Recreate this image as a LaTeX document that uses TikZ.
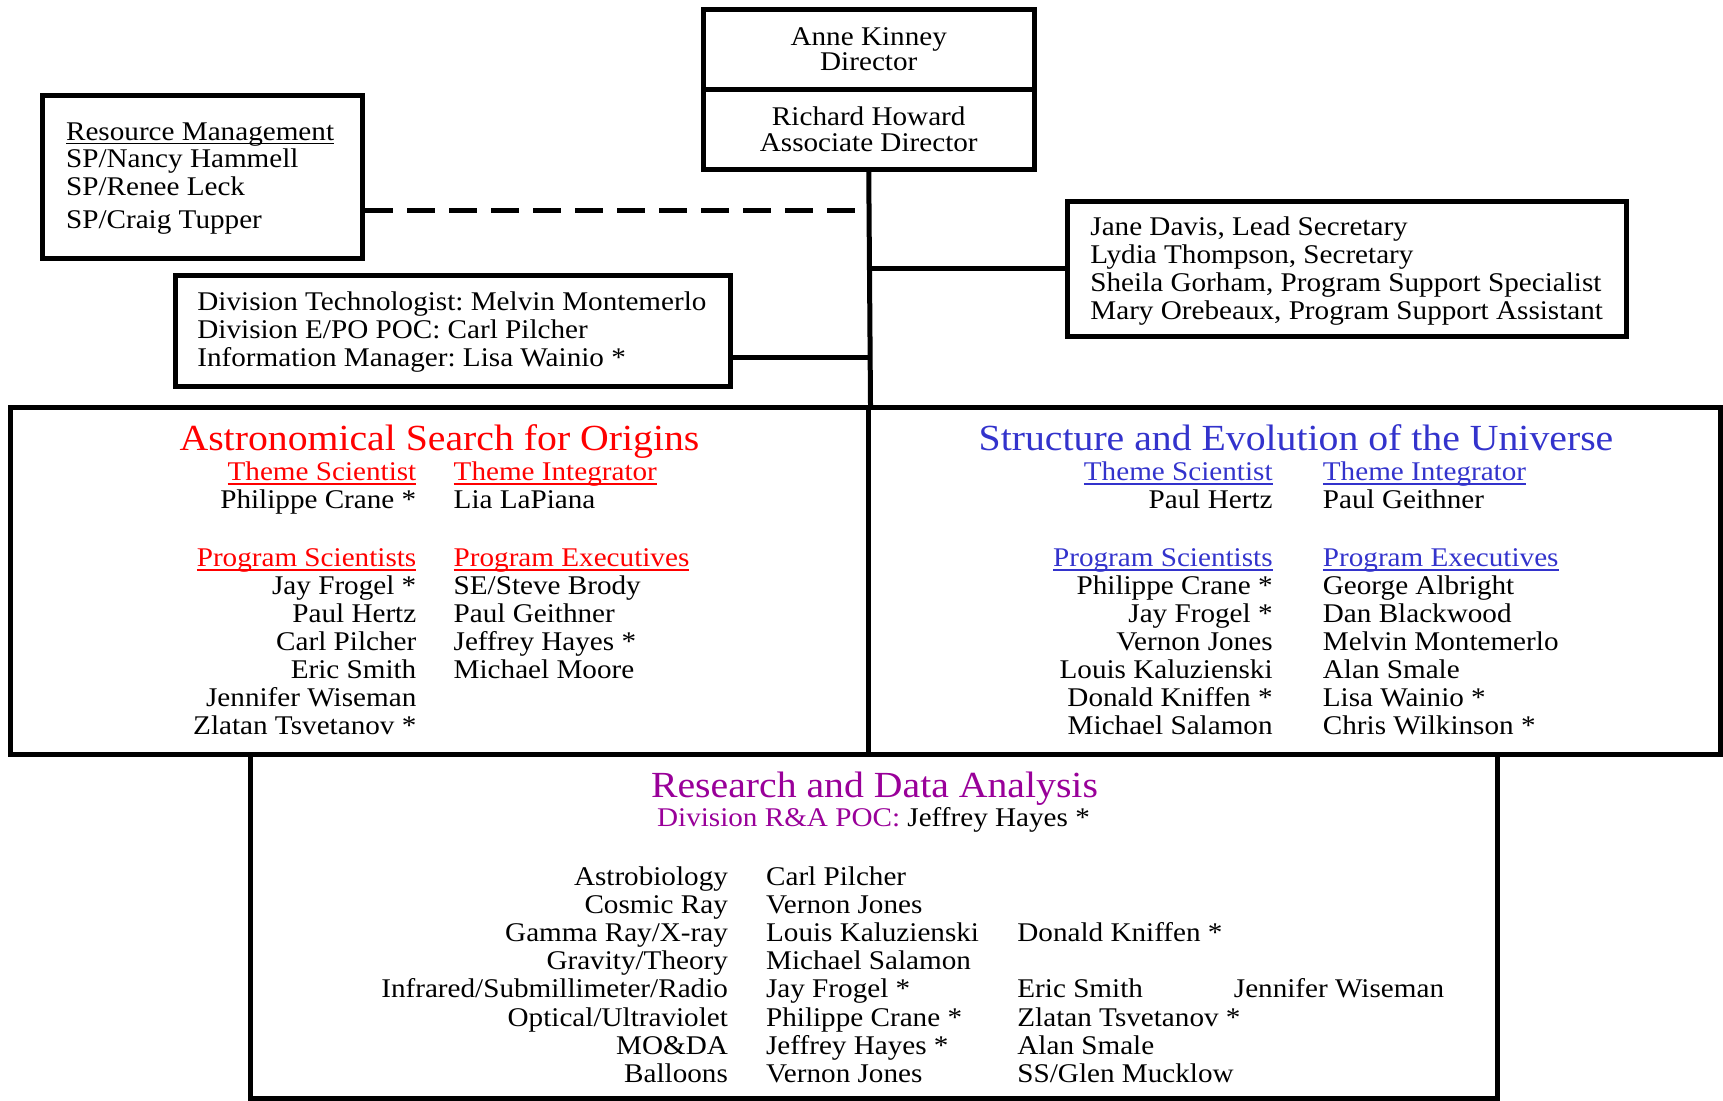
\documentclass[tikz,border=0pt]{standalone}
\usepackage{fontspec}
\setmainfont{Liberation Serif}[FakeStretch=1.08]
\usetikzlibrary{fit}
\definecolor{asored}{RGB}{255,0,0}
\definecolor{seublue}{RGB}{51,51,204}
\definecolor{rdapurple}{RGB}{153,0,153}
\newsavebox{\hdbox}
\newcommand{\hdline}[1]{\sbox{\hdbox}{#1}\rlap{\rule[-2.2pt]{\wd\hdbox}{0.9pt}}\usebox{\hdbox}}
\frenchspacing

\tikzset{
  frame/.style={draw, line width=2.5pt, inner sep=0pt},
  link/.style={line width=2.5pt},
  txt/.style={inner sep=0pt, font=\fontsize{13.5}{14}\selectfont},
  ttl/.style={inner sep=0pt, anchor=base, font=\fontsize{18.4}{20}\selectfont},
}

\begin{document}
\begin{tikzpicture}[x=0.5pt, y=-0.5pt]
  \useasboundingbox (0,0) rectangle (1723,1100);
  \node[frame, fit={(703,9.5) (1034.5,89.5)}]   (DIR)  {};
  \node[frame, fit={(703,89.5) (1034.5,169.5)}] (ADIR) {};
  \node[frame, fit={(42.5,95) (362.5,258.5)}]   (RES)  {};
  \node[frame, fit={(175,275) (730.5,386.7)}]   (TECH) {};
  \node[frame, fit={(1067,201.5) (1626,336.5)}] (SEC)  {};
  \node[frame, fit={(10,407.5) (868,754)}]      (ASO)  {};
  \node[frame, fit={(868,407.5) (1720,754)}]    (SEU)  {};
  \node[frame, fit={(250,754) (1497,1098)}]     (RDA)  {};
  \coordinate (J1) at (868,210);
  \coordinate (J2) at (868,268);
  \coordinate (J3) at (868,357.5);
  \draw[link] (ADIR.south) -- (ASO.north east);
  \draw[link, dash pattern=on 14pt off 7pt] (RES.east |- J1) -- (J1);
  \draw[link] (J2) -- (SEC.west |- J2);
  \draw[link] (TECH.east |- J3) -- (J3);

  % front office
  \node[txt, anchor=base] (dir1)  at (868.75,45)    {Anne Kinney};
  \node[txt, anchor=base] (dir2)  at (868.75,70.7)  {Director};
  \node[txt, anchor=base] (adir1) at (868.75,125.7) {Richard Howard};
  \node[txt, anchor=base] (adir2) at (868.75,151.7) {Associate Director};
  \node[txt, anchor=base west] (res1) at (65.7,140)   {\hdline{Resource Management}};
  \node[txt, anchor=base west] (res2) at (65.7,167.3) {SP/Nancy Hammell};
  \node[txt, anchor=base west] (res3) at (65.7,195)   {SP/Renee Leck};
  \node[txt, anchor=base west] (res4) at (65.7,228.3) {SP/Craig Tupper};
  \foreach \who [count=\i] in {Division Technologist: Melvin Montemerlo,
      Division E/PO POC: Carl Pilcher, Information Manager: Lisa Wainio *}
    \node[txt, anchor=base west] (tech\i) at (197,282+28.2*\i) {\who};
  \foreach \who [count=\i] in {{Jane Davis, Lead Secretary}, {Lydia Thompson, Secretary},
      {Sheila Gorham, Program Support Specialist}, {Mary Orebeaux, Program Support Assistant}}
    \node[txt, anchor=base west] (sec\i) at (1090,207+28.1*\i) {\who};

  % origins
  \node[ttl, text=asored] (aso-title) at (439.5,450) {Astronomical Search for Origins};
  \node[txt, anchor=base east, text=asored] (aso-ts) at (416.7,480.5) {\hdline{Theme Scientist}};
  \node[txt, anchor=base west, text=asored] (aso-ti) at (453.3,480.5) {\hdline{Theme Integrator}};
  \node[txt, anchor=base east] (aso-tsn) at (416.7,508.5) {Philippe Crane *};
  \node[txt, anchor=base west] (aso-tin) at (453.3,508.5) {Lia LaPiana};
  \node[txt, anchor=base east, text=asored] (aso-ps) at (416.7,566.5) {\hdline{Program Scientists}};
  \node[txt, anchor=base west, text=asored] (aso-pe) at (453.3,566.5) {\hdline{Program Executives}};
  \foreach \who [count=\i] in {Jay Frogel *, Paul Hertz, Carl Pilcher, Eric Smith,
      Jennifer Wiseman, Zlatan Tsvetanov *}
    \node[txt, anchor=base east] (aso-ps\i) at (416.7,566.5+28*\i) {\who};
  \foreach \who [count=\i] in {SE/Steve Brody, Paul Geithner, Jeffrey Hayes *, Michael Moore}
    \node[txt, anchor=base west] (aso-pe\i) at (453.3,566.5+28*\i) {\who};

  % structure and evolution
  \node[ttl, text=seublue] (seu-title) at (1296,450) {Structure and Evolution of the Universe};
  \node[txt, anchor=base east, text=seublue] (seu-ts) at (1273,480.5) {\hdline{Theme Scientist}};
  \node[txt, anchor=base west, text=seublue] (seu-ti) at (1322.5,480.5) {\hdline{Theme Integrator}};
  \node[txt, anchor=base east] (seu-tsn) at (1273,508.5) {Paul Hertz};
  \node[txt, anchor=base west] (seu-tin) at (1322.5,508.5) {Paul Geithner};
  \node[txt, anchor=base east, text=seublue] (seu-ps) at (1273,566.5) {\hdline{Program Scientists}};
  \node[txt, anchor=base west, text=seublue] (seu-pe) at (1322.5,566.5) {\hdline{Program Executives}};
  \foreach \who [count=\i] in {Philippe Crane *, Jay Frogel *, Vernon Jones,
      Louis Kaluzienski, Donald Kniffen *, Michael Salamon}
    \node[txt, anchor=base east] (seu-ps\i) at (1273,566.5+28*\i) {\who};
  \foreach \who [count=\i] in {George Albright, Dan Blackwood, Melvin Montemerlo,
      Alan Smale, Lisa Wainio *, Chris Wilkinson *}
    \node[txt, anchor=base west] (seu-pe\i) at (1322.5,566.5+28*\i) {\who};

  % research and analysis
  \node[ttl, text=rdapurple] (rda-title) at (874.5,797.3) {Research and Data Analysis};
  \node[txt, anchor=base] (rda-poc) at (873.5,826.7) {\textcolor{rdapurple}{Division R\&A POC:} Jeffrey Hayes *};
  \foreach \what [count=\i] in {Astrobiology, Cosmic Ray, Gamma Ray/X-ray, Gravity/Theory,
      Infrared/Submillimeter/Radio, Optical/Ultraviolet, MO\&DA, Balloons}
    \node[txt, anchor=base east] (rda-d\i) at (728.3,856.8+28.2*\i) {\what};
  \foreach \who [count=\i] in {Carl Pilcher, Vernon Jones, Louis Kaluzienski, Michael Salamon,
      Jay Frogel *, Philippe Crane *, Jeffrey Hayes *, Vernon Jones}
    \node[txt, anchor=base west] (rda-a\i) at (765.7,856.8+28.2*\i) {\who};
  \node[txt, anchor=base west] (rda-b3) at (1017,941.4)  {Donald Kniffen *};
  \node[txt, anchor=base west] (rda-b5) at (1017,997.8)  {Eric Smith};
  \node[txt, anchor=base west] (rda-b6) at (1017,1026)   {Zlatan Tsvetanov *};
  \node[txt, anchor=base west] (rda-b7) at (1017,1054.2) {Alan Smale};
  \node[txt, anchor=base west] (rda-b8) at (1017,1082.4) {SS/Glen Mucklow};
  \node[txt, anchor=base west] (rda-c5) at (1233.5,997.8) {Jennifer Wiseman};
\end{tikzpicture}
\end{document}
